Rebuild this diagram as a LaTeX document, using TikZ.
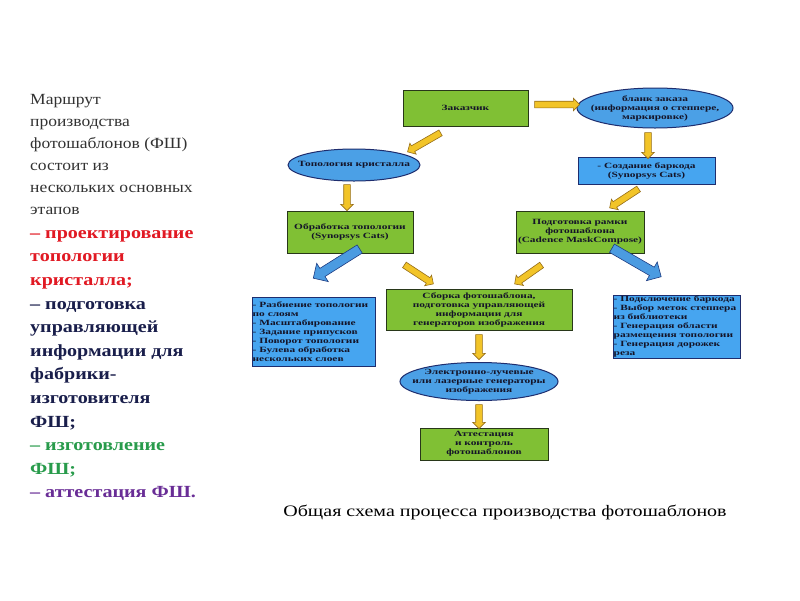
\documentclass[tikz,border=0pt]{standalone}
\usepackage{fontspec}
\setmainfont{Liberation Serif}
\newfontfamily\wideserif[FakeStretch=1.13]{Liberation Serif}
\newfontfamily\widebold[FakeStretch=1.18]{Liberation Serif Bold}
\newfontfamily\capserif[FakeStretch=1.25]{Liberation Serif}
\newfontfamily\boxserif[FakeStretch=1.42]{Liberation Serif Bold}
\usetikzlibrary{shapes.geometric,shapes.arrows,calc}
\definecolor{limefill}{RGB}{128,192,52}
\definecolor{limeedge}{RGB}{40,55,25}
\definecolor{skyfill}{RGB}{70,165,240}
\definecolor{skyedge}{RGB}{30,45,110}
\definecolor{ellfill}{RGB}{75,160,230}
\definecolor{yarfill}{RGB}{242,196,40}
\definecolor{yaredge}{RGB}{150,110,25}
\definecolor{barfill}{RGB}{75,155,225}
\definecolor{baredge}{RGB}{30,60,130}
\definecolor{boxtext}{RGB}{20,20,40}
\definecolor{introgray}{RGB}{50,50,50}
\definecolor{introred}{RGB}{225,25,35}
\definecolor{intronavy}{RGB}{25,30,75}
\definecolor{introgreen}{RGB}{40,155,75}
\definecolor{intropurple}{RGB}{105,45,150}
\tikzset{
  boxfont/.style={font=\boxserif\fontsize{8}{9}\selectfont, text=boxtext},
  greenbox/.style={rectangle, draw=limeedge, line width=1pt, fill=limefill, boxfont, align=center, inner sep=0pt},
  bluebox/.style={rectangle, draw=skyedge, line width=1pt, fill=skyfill, boxfont, align=center, inner sep=0pt},
  listbox/.style={rectangle, draw=skyedge, line width=1pt, fill=skyfill, inner sep=0pt},
  listtext/.style={boxfont, align=left, inner sep=1pt, anchor=west},
  blueell/.style={ellipse, draw=skyedge, line width=1pt, fill=ellfill, inner sep=0pt},
  elltext/.style={boxfont, align=center, inner sep=0pt},
  yarrow/.style={single arrow, draw=yaredge, fill=yarfill, line width=0.6pt, inner sep=3pt, single arrow head extend=3pt, single arrow head indent=0pt},
  barrowshape/.style={single arrow, draw=baredge, fill=barfill, line width=0.6pt, inner sep=4.5pt, single arrow head extend=6pt, single arrow head indent=0pt},
  barstripe/.style={rectangle, draw=baredge, fill=barfill, line width=0.4pt, minimum width=1.6pt, minimum height=9pt, inner sep=0pt},
}
\newcommand\blockarrow[3]{\path let \p1=(#2), \p2=(#3), \n1={atan2(\y2-\y1,\x2-\x1)}, \n2={veclen(\x2-\x1,\y2-\y1)} in node[#1, minimum height=\n2, rotate=\n1] at ($(#2)!0.5!(#3)$) {};}
\newcommand\stripedarrow[2]{\path let \p1=(#1), \p2=(#2), \n1={atan2(\y2-\y1,\x2-\x1)}, \n2={veclen(\x2-\x1,\y2-\y1)} in
  node[barstripe, rotate=\n1] at ($(#1)!{1.5/\n2}!(#2)$) {}
  node[barstripe, rotate=\n1] at ($(#1)!{5/\n2}!(#2)$) {}
  node[barrowshape, minimum height=\n2-9, rotate=\n1] at ($(#1)!{0.5+4.5/\n2}!(#2)$) {};}
\begin{document}
\begin{tikzpicture}[x=1pt,y=-1pt]
\useasboundingbox (0,0) rectangle (800,600);
\fill[white] (0,0) rectangle (800,600);
% intro text
\node[anchor=north west, inner sep=0pt, align=left, text=introgray, font=\wideserif\fontsize{15.5}{22}\selectfont] (intro) at (30,94)
  {Маршрут\\производства\\фотошаблонов (ФШ)\\состоит из\\нескольких основных\\этапов};
\node[anchor=north west, inner sep=0pt, align=left, font=\widebold\fontsize{17}{23.6}\selectfont] (stages) at (30,230)
  {\textcolor{introred}{– проектирование}\\\textcolor{introred}{топологии}\\\textcolor{introred}{кристалла;}\\
   \textcolor{intronavy}{– подготовка}\\\textcolor{intronavy}{управляющей}\\\textcolor{intronavy}{информации для}\\\textcolor{intronavy}{фабрики-}\\\textcolor{intronavy}{изготовителя}\\\textcolor{intronavy}{ФШ;}\\
   \textcolor{introgreen}{– изготовление}\\\textcolor{introgreen}{ФШ;}\\
   \textcolor{intropurple}{– аттестация ФШ.}};
% diagram nodes
\node[greenbox, minimum width=125pt, minimum height=36pt] (zak) at (465.5,108) {Заказчик};
\node[blueell, minimum width=156pt, minimum height=40pt, label={[elltext]center:бланк заказа\\(информация о степпере,\\маркировке)}] (blank) at (655,108) {};
\node[bluebox, minimum width=137pt, minimum height=27pt] (barcode) at (646.5,170.5) {- Создание баркода\\(Synopsys Cats)};
\node[blueell, minimum width=132pt, minimum height=32pt, label={[elltext]center:Топология кристалла}] (topo) at (354,165) {};
\node[greenbox, minimum width=126pt, minimum height=42pt] (obr) at (350,232) {Обработка топологии\\(Synopsys Cats)};
\node[greenbox, minimum width=128pt, minimum height=42pt] (ramka) at (580,232) {Подготовка рамки\\фотошаблона\\(Cadence MaskCompose)};
\node[listbox, minimum width=123pt, minimum height=69pt, label={[listtext]west:- Разбиение топологии\\по слоям\\- Масштабирование\\- Задание припусков\\- Поворот топологии\\- Булева обработка\\нескольких слоев}] (leftlist) at (313.5,331.5) {};
\node[greenbox, minimum width=186pt, minimum height=41pt] (sborka) at (479,309.5) {Сборка фотошаблона,\\подготовка управляющей\\информации для\\генераторов изображения};
\node[listbox, minimum width=127pt, minimum height=63pt, label={[listtext]west:- Подключение баркода\\- Выбор меток степпера\\из библиотеки\\- Генерация области\\размещения топологии\\- Генерация дорожек\\реза}] (rightlist) at (676.5,326.5) {};
\node[blueell, minimum width=158pt, minimum height=38pt, label={[elltext]center:Электронно-лучевые\\или лазерные генераторы\\изображения}] (gen) at (479,381.5) {};
\node[greenbox, minimum width=128pt, minimum height=32pt] (att) at (484,444) {Аттестация\\и контроль\\фотошаблонов};
\node[font=\capserif\fontsize{16}{18}\selectfont, text=black, inner sep=0pt] (caption) at (505,512) {Общая схема процесса производства фотошаблонов};
% arrow end points
\coordinate (a1s) at (533,104.5); \coordinate (a1e) at (578,104.5);
\coordinate (a2s) at (442,132); \coordinate (a2e) at (409,151);
\coordinate (a3s) at (648,131); \coordinate (a3e) at (648,157);
\coordinate (a4s) at (347,183); \coordinate (a4e) at (347,209);
\coordinate (a5s) at (640,188); \coordinate (a5e) at (611,207);
\coordinate (a6s) at (403,264); \coordinate (a6e) at (432,283);
\coordinate (a7s) at (543,264); \coordinate (a7e) at (516,283);
\coordinate (a8s) at (339,262); \coordinate (a8e) at (285,296);
\coordinate (a9s) at (634,261); \coordinate (a9e) at (691,294);
\coordinate (a10s) at (479,333); \coordinate (a10e) at (479,358);
\coordinate (a11s) at (479,403); \coordinate (a11e) at (479,427);
\blockarrow{yarrow}{a1s}{a1e}
\blockarrow{yarrow}{a2s}{a2e}
\blockarrow{yarrow}{a3s}{a3e}
\blockarrow{yarrow}{a4s}{a4e}
\blockarrow{yarrow}{a5s}{a5e}
\blockarrow{yarrow}{a6s}{a6e}
\blockarrow{yarrow}{a7s}{a7e}
\blockarrow{yarrow}{a10s}{a10e}
\blockarrow{yarrow}{a11s}{a11e}
\stripedarrow{a8s}{a8e}
\stripedarrow{a9s}{a9e}
\end{tikzpicture}
\end{document}
